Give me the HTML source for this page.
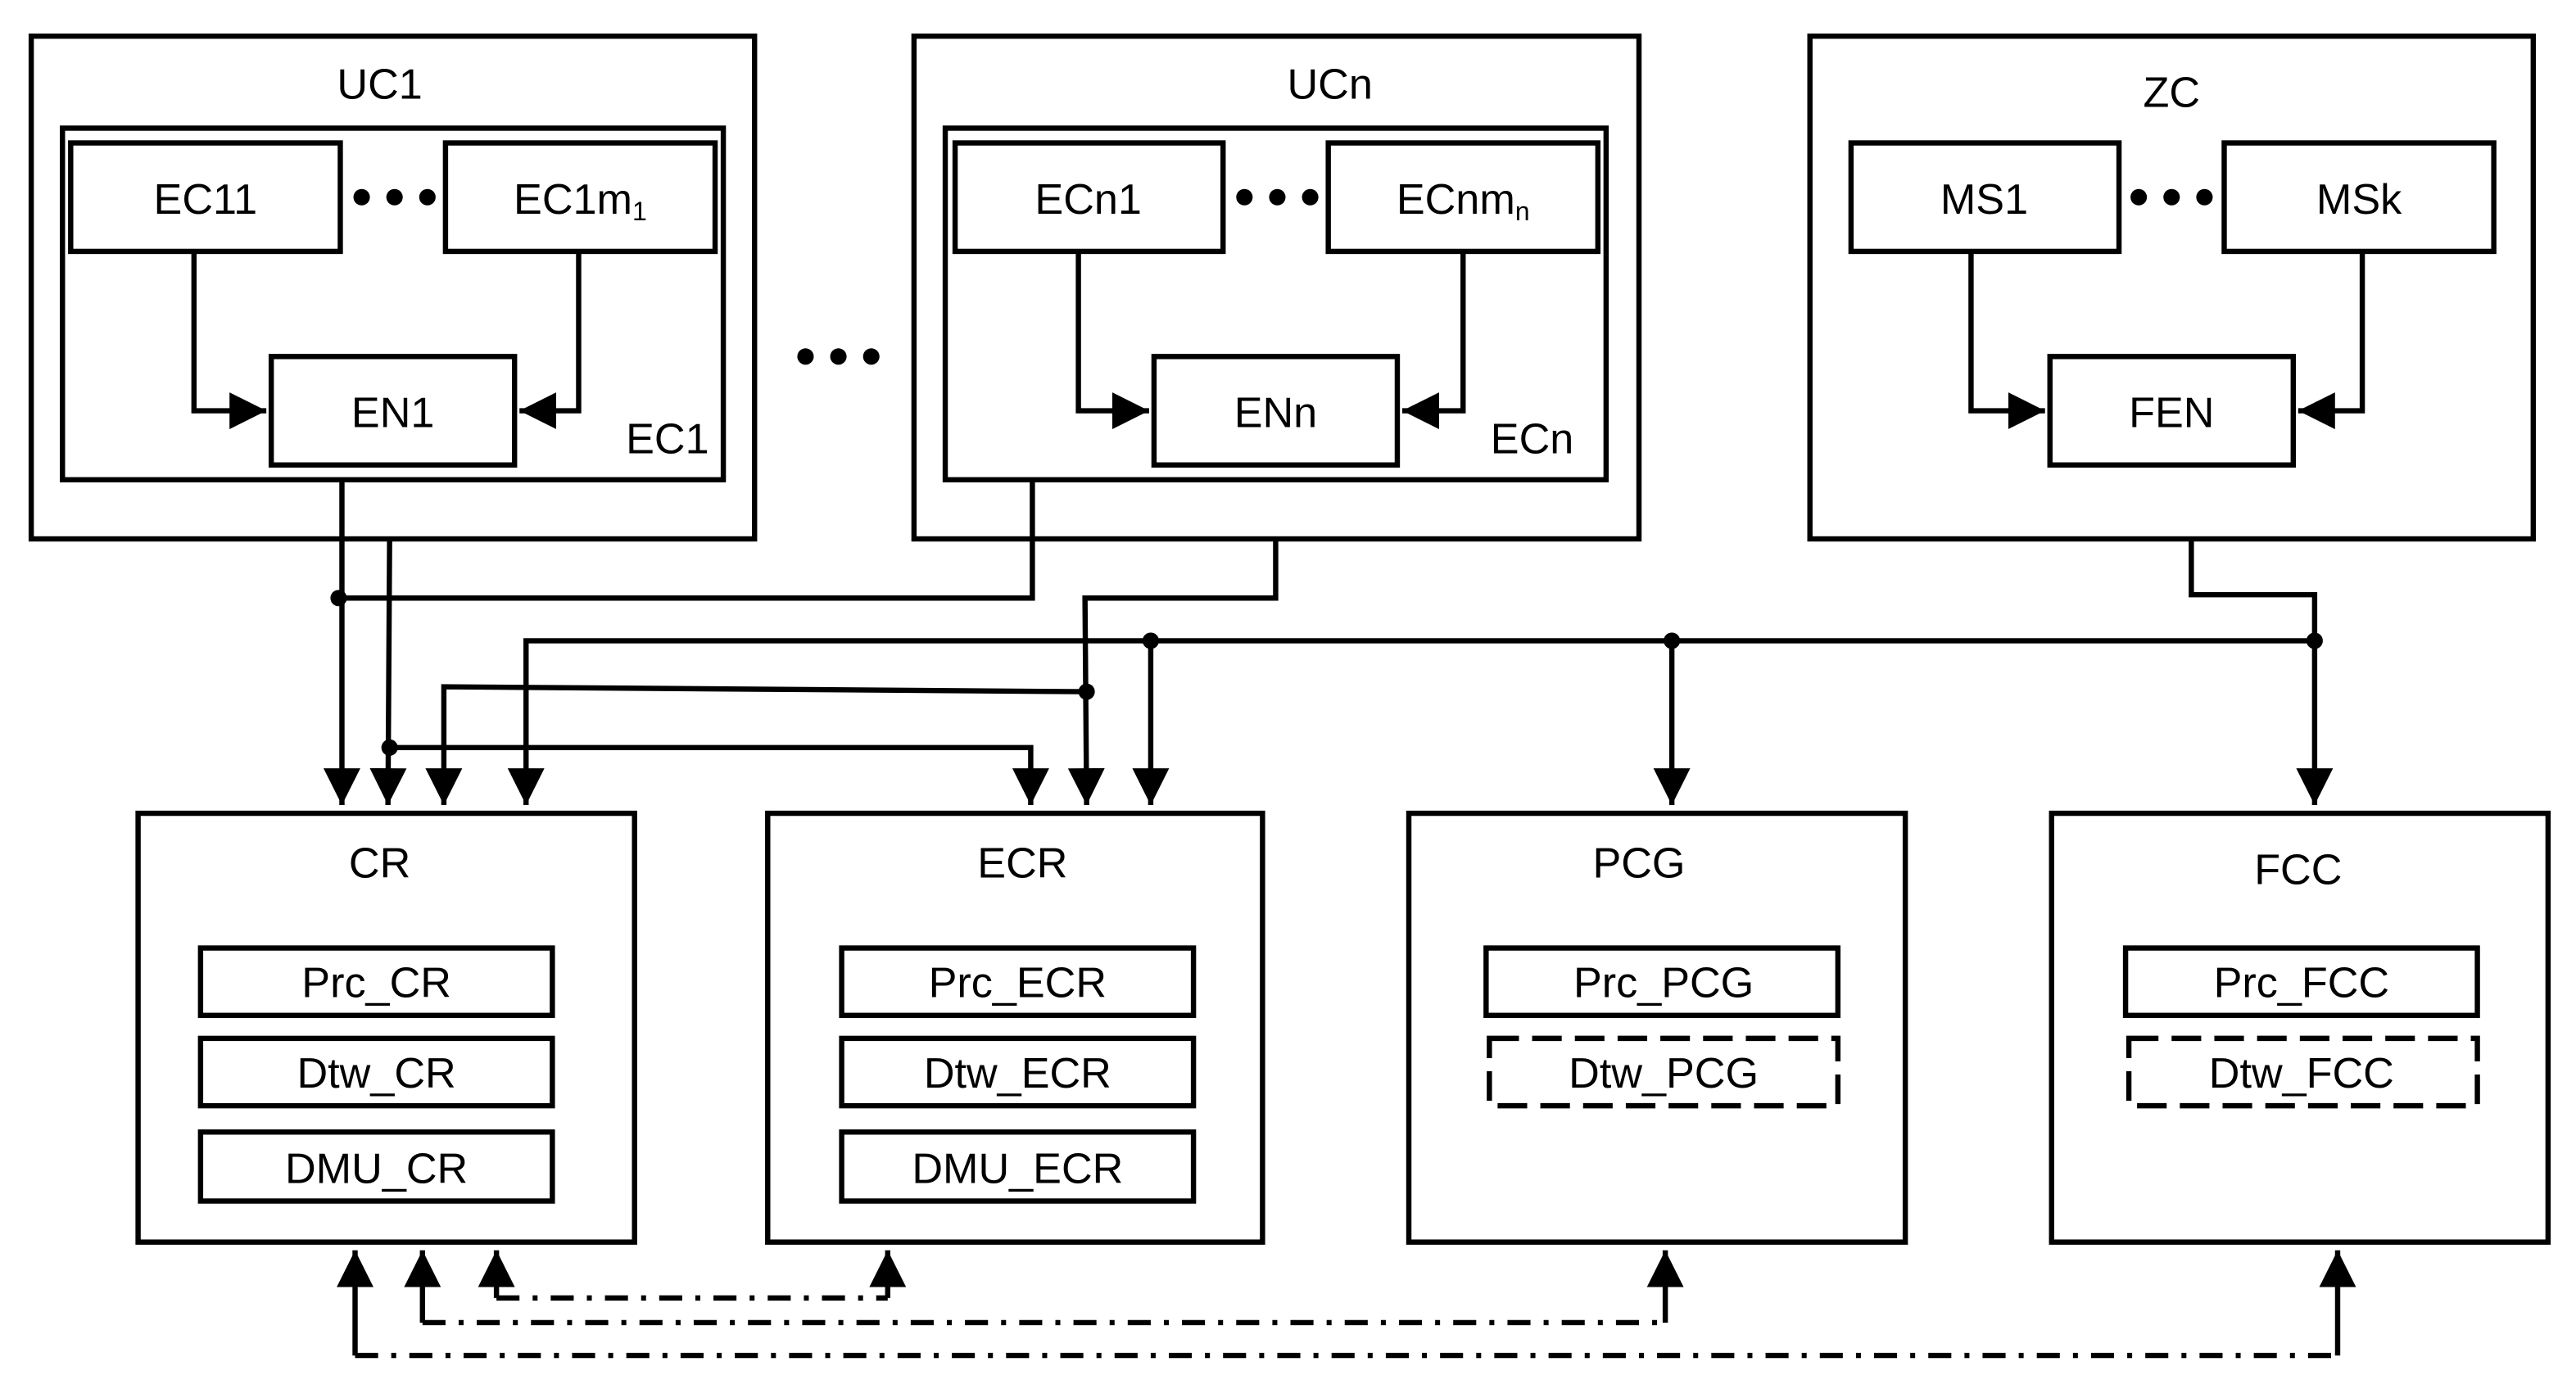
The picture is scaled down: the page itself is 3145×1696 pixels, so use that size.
<!DOCTYPE html>
<html><head><meta charset="utf-8"><style>
html,body{margin:0;padding:0;background:#fff}
svg{display:block}
text{font-family:"Liberation Sans Narrow","Liberation Sans",sans-serif;font-size:26px;fill:#000;text-anchor:middle}
</style></head><body>
<svg width="3145" height="1696" viewBox="0 0 1567 845.4" preserveAspectRatio="none" xmlns="http://www.w3.org/2000/svg">
<defs>
<marker id="a" markerWidth="8" markerHeight="8" refX="7" refY="3.5" orient="auto" markerUnits="strokeWidth">
<path d="M0,0 L7,3.5 L0,7 z" fill="#000"/>
</marker>
</defs>
<g fill="none" stroke="#000" stroke-width="3.2">
<rect x="19" y="22" width="440" height="306"/>
<rect x="38" y="78" width="402" height="214"/>
<rect x="43" y="87" width="164" height="66"/>
<rect x="271" y="87" width="164" height="66"/>
<rect x="165" y="217" width="148" height="66"/>
<polyline points="118,153 118,250 162,250" marker-end="url(#a)"/>
<polyline points="352,153 352,250 316,250" marker-end="url(#a)"/>
<rect x="556" y="22" width="441" height="306"/>
<rect x="575" y="78" width="402" height="214"/>
<rect x="581" y="87" width="163" height="66"/>
<rect x="808" y="87" width="164" height="66"/>
<rect x="702" y="217" width="148" height="66"/>
<polyline points="656,153 656,250 699,250" marker-end="url(#a)"/>
<polyline points="890,153 890,250 853,250" marker-end="url(#a)"/>
<rect x="1101" y="22" width="440" height="306"/>
<rect x="1126" y="87" width="163" height="66"/>
<rect x="1353" y="87" width="164" height="66"/>
<rect x="1247" y="217" width="148" height="66"/>
<polyline points="1199,153 1199,250 1244,250" marker-end="url(#a)"/>
<polyline points="1437,153 1437,250 1398,250" marker-end="url(#a)"/>
<rect x="84" y="495" width="302" height="261"/>
<rect x="467" y="495" width="301" height="261"/>
<rect x="857" y="495" width="302" height="261"/>
<rect x="1248" y="495" width="302" height="261"/>
<rect x="122" y="577" width="214" height="41"/>
<rect x="122" y="632" width="214" height="41"/>
<rect x="122" y="689" width="214" height="42"/>
<rect x="512" y="577" width="214" height="41"/>
<rect x="512" y="632" width="214" height="41"/>
<rect x="512" y="689" width="214" height="42"/>
<rect x="904" y="577" width="214" height="41"/>
<rect x="906" y="632" width="212" height="41" stroke-dasharray="18,8"/>
<rect x="1293" y="577" width="214" height="41"/>
<rect x="1295" y="632" width="212" height="41" stroke-dasharray="18,8"/>
<polyline points="208,292 208,490" marker-end="url(#a)"/>
<polyline points="206,364 628,364 628,292"/>
<polyline points="237,328 236,490" marker-end="url(#a)"/>
<polyline points="237,455 627,455 627,490" marker-end="url(#a)"/>
<polyline points="661,421 270,418 270,490" marker-end="url(#a)"/>
<polyline points="776,328 776,364 660,364 661,490" marker-end="url(#a)"/>
<polyline points="1408,390 320,390 320,490" marker-end="url(#a)"/>
<polyline points="700,390 700,490" marker-end="url(#a)"/>
<polyline points="1017,390 1017,490" marker-end="url(#a)"/>
<polyline points="1333,328 1333,362 1408,362 1408,490" marker-end="url(#a)"/>
<polyline points="302,790 302,761" marker-end="url(#a)"/>
<polyline points="540,790 540,761" marker-end="url(#a)"/>
<line x1="302" y1="790" x2="540" y2="790" stroke-dasharray="14,8,3,8"/>
<polyline points="257,805 257,761" marker-end="url(#a)"/>
<polyline points="1013,805 1013,761" marker-end="url(#a)"/>
<line x1="257" y1="805" x2="1013" y2="805" stroke-dasharray="14,8,3,8"/>
<polyline points="216,825 216,761" marker-end="url(#a)"/>
<polyline points="1422,825 1422,761" marker-end="url(#a)"/>
<line x1="216" y1="825" x2="1422" y2="825" stroke-dasharray="14,8,3,8"/>
</g>
<g fill="#000">
<circle cx="206" cy="364" r="5"/><circle cx="237" cy="455" r="5"/>
<circle cx="661" cy="421" r="5"/><circle cx="700" cy="390" r="5"/>
<circle cx="1017" cy="390" r="5"/><circle cx="1408" cy="390" r="5"/>
<circle cx="220" cy="120" r="5"/><circle cx="240" cy="120" r="5"/><circle cx="260" cy="120" r="5"/>
<circle cx="757" cy="120" r="5"/><circle cx="777" cy="120" r="5"/><circle cx="797" cy="120" r="5"/>
<circle cx="1301" cy="120" r="5"/><circle cx="1321" cy="120" r="5"/><circle cx="1341" cy="120" r="5"/>
<circle cx="490" cy="217" r="5"/><circle cx="510" cy="217" r="5"/><circle cx="530" cy="217" r="5"/>
</g>
<text x="231" y="60">UC1</text>
<text x="809" y="60">UCn</text>
<text x="1321" y="65">ZC</text>
<text x="125" y="130">EC11</text>
<text x="353" y="130">EC1m<tspan font-size="16" dy="4">1</tspan></text>
<text x="662" y="130">ECn1</text>
<text x="890" y="130">ECnm<tspan font-size="16" dy="4">n</tspan></text>
<text x="1207" y="130">MS1</text>
<text x="1435" y="130">MSk</text>
<text x="239" y="260">EN1</text>
<text x="776" y="260">ENn</text>
<text x="1321" y="260">FEN</text>
<text x="406" y="276">EC1</text>
<text x="932" y="276">ECn</text>
<text x="231" y="534">CR</text>
<text x="622" y="534">ECR</text>
<text x="997" y="534">PCG</text>
<text x="1398" y="538">FCC</text>
<text x="229" y="607">Prc_CR</text>
<text x="229" y="662">Dtw_CR</text>
<text x="229" y="720">DMU_CR</text>
<text x="619" y="607">Prc_ECR</text>
<text x="619" y="662">Dtw_ECR</text>
<text x="619" y="720">DMU_ECR</text>
<text x="1012" y="607">Prc_PCG</text>
<text x="1012" y="662">Dtw_PCG</text>
<text x="1400" y="607">Prc_FCC</text>
<text x="1400" y="662">Dtw_FCC</text>
</svg>
</body></html>
